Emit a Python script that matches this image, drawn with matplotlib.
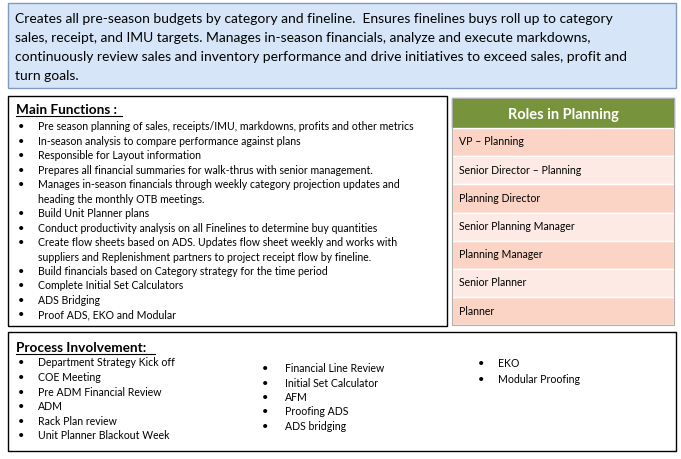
import matplotlib.pyplot as plt
from matplotlib.patches import Rectangle

plt.rcParams['font.family'] = ['Lato', 'DejaVu Sans']

summary = ["Creates all pre-season budgets by category and fineline.  Ensures finelines buys roll up to category",
           "sales, receipt, and IMU targets. Manages in-season financials, analyze and execute markdowns,",
           "continuously review sales and inventory performance and drive initiatives to exceed sales, profit and",
           "turn goals."]

main_functions = [
    ("Pre season planning of sales, receipts/IMU, markdowns, profits and other metrics", None),
    ("In-season analysis to compare performance against plans", None),
    ("Responsible for Layout information", None),
    ("Prepares all financial summaries for walk-thrus with senior management.", None),
    ("Manages in-season financials through weekly category projection updates and", "heading the monthly OTB meetings."),
    ("Build Unit Planner plans", None),
    ("Conduct productivity analysis on all Finelines to determine buy quantities", None),
    ("Create flow sheets based on ADS. Updates flow sheet weekly and works with", "suppliers and Replenishment partners to project receipt flow by fineline."),
    ("Build financials based on Category strategy for the time period", None),
    ("Complete Initial Set Calculators", None),
    ("ADS Bridging", None),
    ("Proof ADS, EKO and Modular", None),
]

roles = ["VP \u2013 Planning", "Senior Director \u2013 Planning", "Planning Director",
         "Senior Planning Manager", "Planning Manager", "Senior Planner", "Planner"]

process_col1 = ["Department Strategy Kick off", "COE Meeting", "Pre ADM Financial Review",
                "ADM", "Rack Plan review", "Unit Planner Blackout Week"]
process_col2 = ["Financial Line Review", "Initial Set Calculator", "AFM", "Proofing ADS", "ADS bridging"]
process_col3 = ["EKO", "Modular Proofing"]

fig = plt.figure(figsize=(6.81, 4.6), dpi=100)
ax = fig.add_axes([0, 0, 1, 1])
ax.set_xlim(0, 681)
ax.set_ylim(460, 0)
ax.axis('off')

# top summary box
ax.add_patch(Rectangle((8, 4), 668, 85, facecolor='#d6e6f8', edgecolor='#7f9cc0', lw=1))
for i, line in enumerate(summary):
    ax.text(15, 19 + i * 19, line, fontsize=10, va='center', color='black')

# main functions box
ax.add_patch(Rectangle((8, 97), 439, 230, facecolor='white', edgecolor='black', lw=1))
ax.text(16, 110, "Main Functions :", fontsize=9.8, fontweight='bold', va='center')
ax.plot([16, 122], [117, 117], color='black', lw=0.8)
y = 127
for first, second in main_functions:
    ax.text(18, y, "\u2022", fontsize=8, va='center')
    ax.text(38, y, first, fontsize=7.6, va='center')
    y += 14.45
    if second:
        ax.text(38, y, second, fontsize=7.6, va='center')
        y += 14.45

# roles table
ax.add_patch(Rectangle((452, 99), 222, 30, facecolor='#77933c', edgecolor='#5e7a2c', lw=1))
ax.text(563, 115, "Roles in Planning", fontsize=10.5, fontweight='bold', color='white',
        ha='center', va='center')
for i, role in enumerate(roles):
    top = 129 + i * 28.2
    color = '#fbd4c6' if i % 2 == 0 else '#fdeae4'
    ax.add_patch(Rectangle((452, top), 222, 28.2, facecolor=color, edgecolor='white', lw=1))
    ax.text(459, top + 13, role, fontsize=7.6, va='center')
ax.add_patch(Rectangle((452, 99), 222, 227, facecolor='none', edgecolor='#b0b0b0', lw=0.8))

# process involvement box
ax.add_patch(Rectangle((8, 333), 668, 119, facecolor='white', edgecolor='black', lw=1))
ax.text(16, 348, "Process Involvement:", fontsize=9.8, fontweight='bold', va='center')
ax.plot([16, 155], [355, 355], color='black', lw=0.8)
for items, bx, tx, y0, dy in [(process_col1, 18, 38, 363, 14.6),
                              (process_col2, 262, 285, 369, 14.3),
                              (process_col3, 478, 498, 364, 16)]:
    for i, item in enumerate(items):
        ax.text(bx, y0 + i * dy, "\u2022", fontsize=8, va='center')
        ax.text(tx, y0 + i * dy, item, fontsize=7.6, va='center')

fig.savefig("out.png", dpi=100)
